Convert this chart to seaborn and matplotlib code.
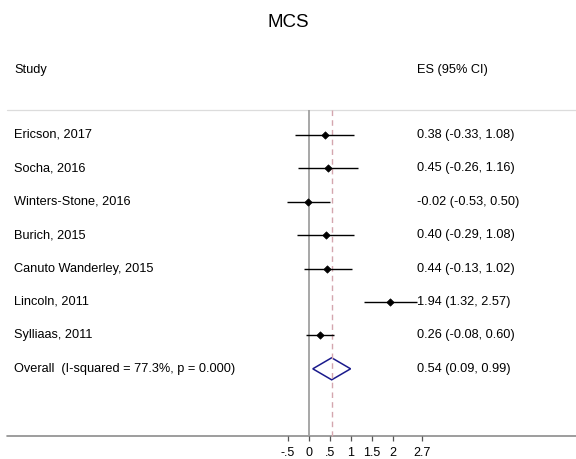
import matplotlib
matplotlib.use("Agg")
import matplotlib.pyplot as plt
import seaborn as sns
import pandas as pd
from matplotlib.patches import Polygon
import matplotlib.transforms as mtransforms

# data
studies = ["Ericson, 2017", "Socha, 2016", "Winters-Stone, 2016", "Burich, 2015",
           "Canuto Wanderley, 2015", "Lincoln, 2011", "Sylliaas, 2011"]
es = [0.38, 0.45, -0.02, 0.40, 0.44, 1.94, 0.26]
lo = [-0.33, -0.26, -0.53, -0.29, -0.13, 1.32, -0.08]
hi = [1.08, 1.16, 0.50, 1.08, 1.02, 2.57, 0.60]

overall_label = "Overall  (I-squared = 77.3%, p = 0.000)"
overall_es = 0.54
overall_lo = 0.09
overall_hi = 0.99

tick_vals = [-0.5, 0, 0.5, 1, 1.5, 2, 2.7]
tick_labels = ["-.5", "0", ".5", "1", "1.5", "2", "2.7"]

df = pd.DataFrame({"Study": studies, "ES": es, "lo": lo, "hi": hi})
df["row"] = range(len(df))
n = len(df)

sns.set_style("white")
plt.rcParams["font.family"] = ["Liberation Sans", "DejaVu Sans"]
plt.rcParams["text.color"] = "black"

fig = plt.figure(figsize=(5.76, 4.59), dpi=100)
ax = fig.add_axes([0, 0, 1, 1])
ax.set_xlim(-309 / 42, 267 / 42)
ax.set_ylim(9.70, -4.04)

trans = mtransforms.blended_transform_factory(ax.transAxes, ax.transData)

# reference lines
y_top, y_axis = -0.75, 9.01
ax.plot([7 / 576, 1], [y_top, y_top], transform=trans, color="#dcdcdc", lw=0.9)
ax.plot([7 / 576, 1], [y_axis, y_axis], transform=trans, color="#8c8c8c", lw=1.2)
ax.vlines(0, y_top, y_axis, color="#a0a0a0", lw=1.3)
ax.vlines(overall_es, y_top, y_axis, color="#d4a6ae", lw=1.0, linestyles=(0, (4, 3)))

# ticks
for v, lab in zip(tick_vals, tick_labels):
    ax.vlines(v, y_axis, y_axis + 0.15, color="#555555", lw=0.9)
    ax.text(v, y_axis + 0.5, lab, ha="center", va="center", fontsize=9)

# CIs and point estimates
ax.hlines(df["row"], df["lo"], df["hi"], color="black", lw=1.0)
sns.scatterplot(data=df, x="ES", y="row", marker="D", s=14, color="black",
                edgecolor="black", linewidth=0.5, ax=ax, legend=False, zorder=3)
ax.axis("off")

# overall diamond
yo = n
h = 0.33
diamond = Polygon([[overall_lo, yo], [overall_es, yo - h], [overall_hi, yo], [overall_es, yo + h]],
                  closed=True, fill=False, edgecolor="#1a1a8c", lw=1.1)
ax.add_patch(diamond)

# text columns
fs = 9.2
ax.text(288 / 576, -3.38, "MCS", transform=trans, ha="center", va="center", fontsize=13.5)
ax.text(14 / 576, -1.95, "Study", transform=trans, ha="left", va="center", fontsize=fs)
ax.text(417 / 576, -1.95, "ES (95% CI)", transform=trans, ha="left", va="center", fontsize=fs)

for i, row in df.iterrows():
    ax.text(14 / 576, row["row"], row["Study"], transform=trans, ha="left", va="center", fontsize=fs)
    txt = f"{row['ES']:.2f} ({row['lo']:.2f}, {row['hi']:.2f})"
    ax.text(417 / 576, row["row"], txt, transform=trans, ha="left", va="center", fontsize=fs)

ax.text(14 / 576, yo, overall_label, transform=trans, ha="left", va="center", fontsize=fs)
ax.text(417 / 576, yo, f"{overall_es:.2f} ({overall_lo:.2f}, {overall_hi:.2f})",
        transform=trans, ha="left", va="center", fontsize=fs)

fig.savefig("out.png", dpi=100)
